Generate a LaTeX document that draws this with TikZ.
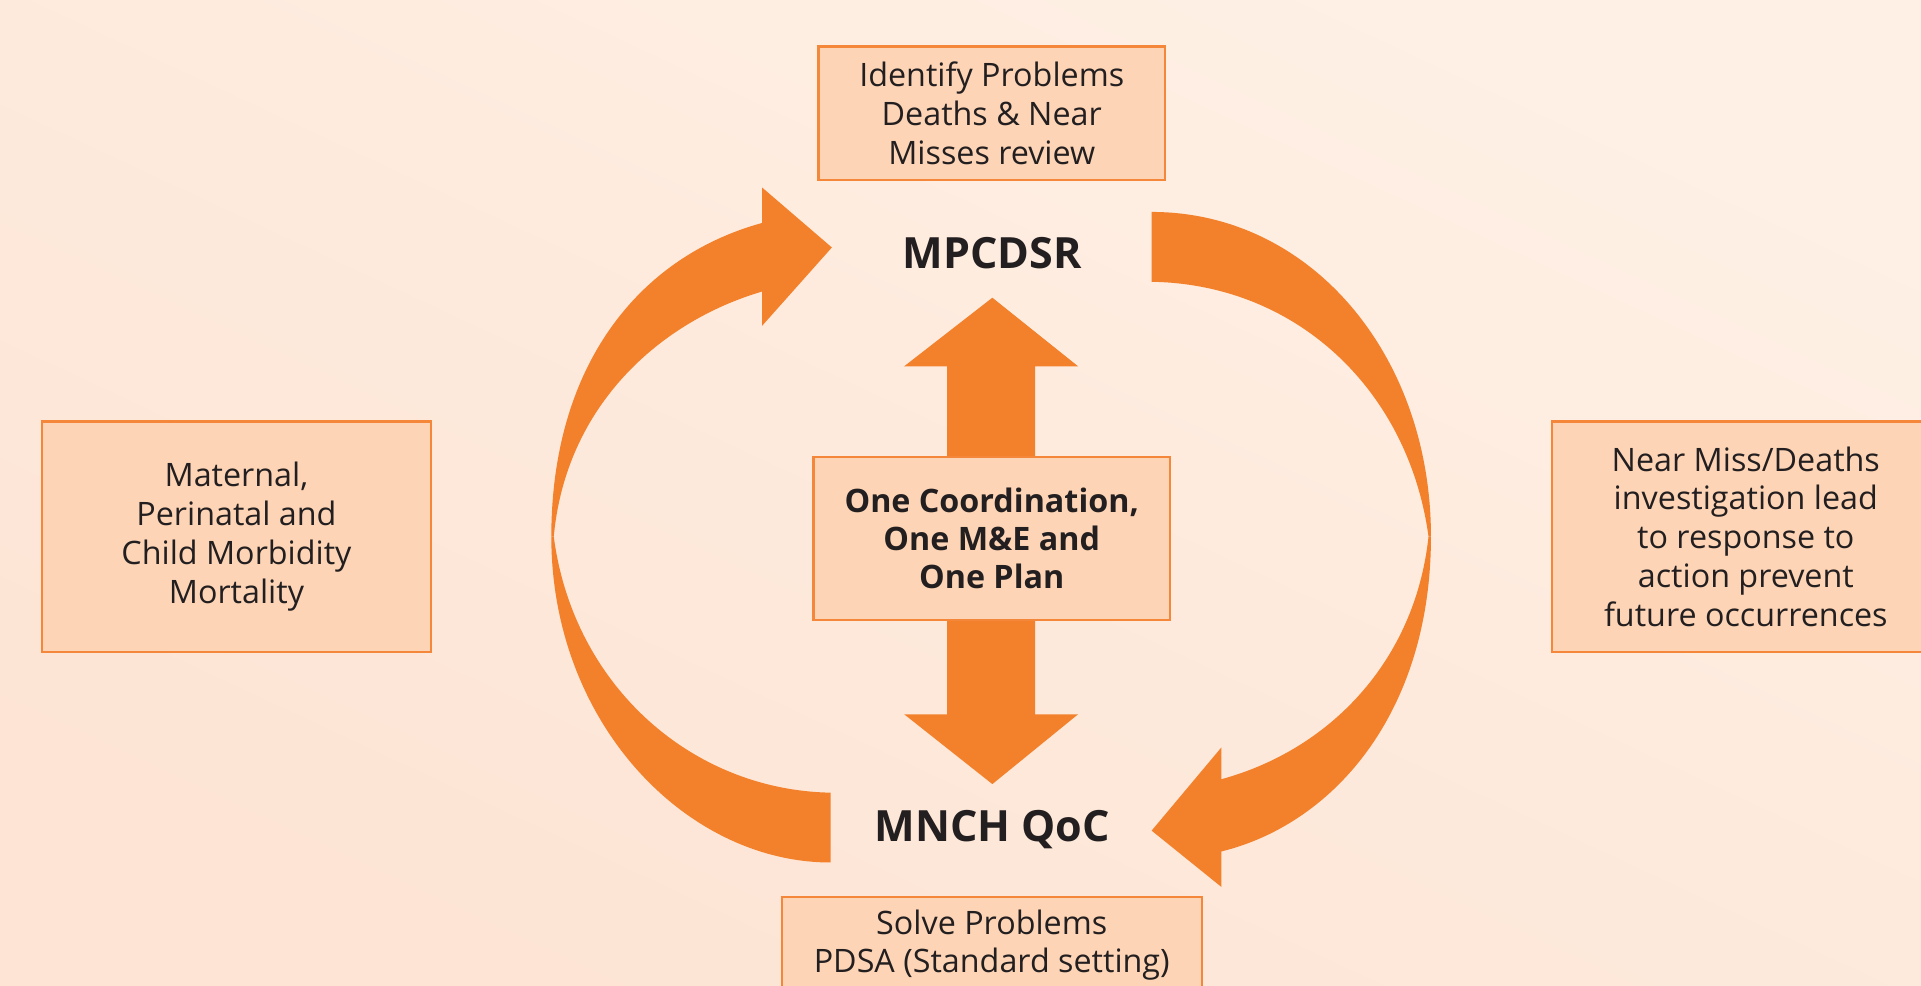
\documentclass[tikz,border=0pt]{standalone}
\usepackage{fontspec}
\setmainfont{Open Sans}
\usepackage{tikz}

\definecolor{qocorange}{HTML}{F3812C}
\definecolor{qocfill}{HTML}{FDD5B6}
\definecolor{qocedge}{HTML}{F5873A}
\definecolor{qoctext}{HTML}{231F20}
\definecolor{bglight}{HTML}{FEF0E5}
\definecolor{bgdark}{HTML}{FDE4D4}

\begin{document}
\begin{tikzpicture}[x=0.02cm, y=-0.02cm,
  box/.style={draw=qocedge, line width=1.1pt, fill=qocfill, text=qoctext, align=center, inner sep=0pt, font=\fontsize{15}{18}\selectfont},
  hub/.style={text=qoctext, font=\bfseries\fontsize{20}{24}\selectfont},
  bigarrow/.style={fill=qocorange}]

\clip (0,0) rectangle (1568,804);
\shade[top color=bglight, bottom color=bgdark, shading angle=-25] (0,0) rectangle (1568,804);

% the cycle of arrows
\fill[bigarrow] (450,438) .. controls (450,300) and (520,210) .. (622,182) -- (622,153) -- (679,202)
  -- (622,266) -- (622,238) .. controls (540,262) and (462,330) .. (452,438) -- cycle;
\fill[bigarrow] (940,173) .. controls (1070,173) and (1168,290) .. (1168,438)
  -- (1166,438) .. controls (1150,320) and (1060,232) .. (940,230) -- cycle;
\fill[bigarrow] (1168,438) .. controls (1168,580) and (1090,672) .. (997,695) -- (997,724) -- (940,678)
  -- (997,610) -- (997,636) .. controls (1085,612) and (1155,540) .. (1166,438) -- cycle;
\fill[bigarrow] (450,438) .. controls (450,590) and (560,704) .. (678,704)
  -- (678,647) .. controls (565,645) and (468,560) .. (452,438) -- cycle;

% double arrow through the middle
\fill[bigarrow] (810,243) -- (880,299) -- (845,299) -- (845,583) -- (880,583) -- (810,640)
  -- (738,583) -- (773,583) -- (773,299) -- (738,299) -- cycle;

\node (mpcdsr) [hub] at (810,207) {MPCDSR};
\node (mnch) [hub] at (810,677) {MNCH QoC};

\node (identify) [box, minimum width=5.66cm, minimum height=2.18cm] at (809.5,92.5) {Identify Problems\\Deaths \& Near\\Misses review};
\node (one) [box, minimum width=5.82cm, minimum height=2.66cm, font=\bfseries\fontsize{15}{17.5}\selectfont] at (809.5,439.5) {One Coordination,\\One M\&E and\\One Plan};
\node (solve) [box, minimum width=6.86cm, minimum height=1.58cm] at (809.5,771.5) {Solve Problems\\PDSA (Standard setting)};
\node (maternal) [box, minimum width=6.36cm, minimum height=3.76cm] at (193,438) {Maternal,\\Perinatal and\\Child Morbidity\\Mortality};
\node (nearmiss) [box, minimum width=6.32cm, minimum height=3.76cm] at (1425,438) {Near Miss/Deaths\\investigation lead\\to response to\\action prevent\\future occurrences};
\end{tikzpicture}
\end{document}
